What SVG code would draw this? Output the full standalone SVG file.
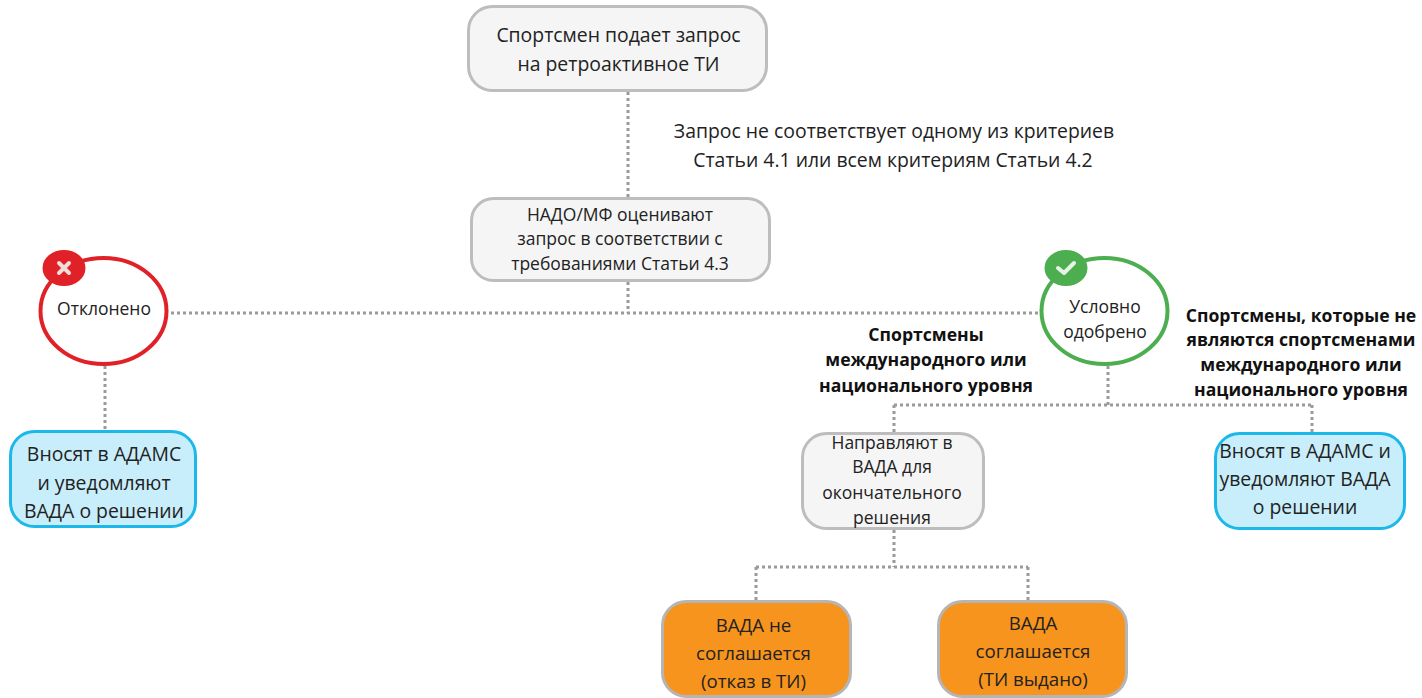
<svg xmlns="http://www.w3.org/2000/svg" width="1422" height="698" viewBox="0 0 1422 698">
<style>
text{font-family:"Open Sans","Noto Sans","Liberation Sans",sans-serif;font-size:17.5px;fill:#222;text-anchor:middle}
.l{font-size:19.4px}
.m{font-size:18.7px}
.b{font-weight:700;font-size:17.6px;fill:#111}
.g{fill:#f5f5f5;stroke:#bdbdbd;stroke-width:3}
.c{fill:#c9eefb;stroke:#1cb8ea;stroke-width:3}
.o{fill:#f7941d;stroke:#b5b5b5;stroke-width:3}
#connectors path{fill:none;stroke:#9a9a9a;stroke-width:3;stroke-dasharray:3 3}
</style>
<g id="connectors">
<path d="M628 92V198"/>
<path d="M628 282V313"/>
<path d="M171 313H1041"/>
<path d="M105 366V431"/>
<path d="M1108 366V405"/>
<path d="M894 405H1312"/>
<path d="M894 405V433"/>
<path d="M1312 405V433"/>
<path d="M894 530V567"/>
<path d="M756 567H1028"/>
<path d="M756 567V601"/>
<path d="M1028 567V601"/>
</g>
<g id="n-request"><rect class="g" x="468.500" y="6.500" width="298" height="84" rx="24"/><text class="l" x="618.500" y="42">Спортсмен подает запрос</text><text class="l" x="618.500" y="71">на ретроактивное ТИ</text></g>
<g id="n-criteria"><text class="l" x="894" y="138">Запрос не соответствует одному из критериев</text><text class="l" x="893" y="167">Статьи 4.1 или всем критериям Статьи 4.2</text></g>
<g id="n-assess"><rect class="g" x="471.500" y="198.500" width="298" height="82" rx="22"/><text x="620" y="221">НАДО/МФ оценивают</text><text x="620" y="245">запрос в соответствии с</text><text x="620" y="270">требованиями Статьи 4.3</text></g>
<g id="n-rejected"><ellipse cx="103.500" cy="311" rx="63" ry="53" fill="#fff" stroke="#e02127" stroke-width="4"/><ellipse cx="64" cy="268" rx="21.500" ry="18" fill="#e02127"/><path d="M59 263l10 10m0-10l-10 10" stroke="#f3dcdc" stroke-width="4" stroke-linecap="round"/><text x="104" y="315">Отклонено</text></g>
<g id="n-approved"><ellipse cx="1104.500" cy="311" rx="63" ry="53" fill="#fff" stroke="#4cae4f" stroke-width="4"/><ellipse cx="1066" cy="268" rx="21.500" ry="18" fill="#4cae4f"/><path d="M1058 268l6 5 10-10" fill="none" stroke="#e6f3e6" stroke-width="4" stroke-linecap="round" stroke-linejoin="round"/><text x="1105" y="313">Условно</text><text x="1105" y="338">одобрено</text></g>
<g id="n-label-left"><text class="b" x="926" y="341">Спортсмены</text><text class="b" x="926" y="366">международного или</text><text class="b" x="926" y="392">национального уровня</text></g>
<g id="n-label-right"><text class="b" x="1301" y="322">Спортсмены, которые не</text><text class="b" x="1301" y="346">являются спортсменами</text><text class="b" x="1301" y="371">международного или</text><text class="b" x="1301" y="396">национального уровня</text></g>
<g id="n-adams-left"><rect class="c" x="10.500" y="431.500" width="185" height="95" rx="24"/><text class="l" x="104" y="461">Вносят в АДАМС</text><text class="l" x="104" y="490">и уведомляют</text><text class="l" x="104" y="518">ВАДА о решении</text></g>
<g id="n-adams-right"><rect class="c" x="1215.500" y="433.500" width="189" height="95" rx="24"/><text class="l" x="1305" y="458">Вносят в АДАМС и</text><text class="l" x="1305" y="486">уведомляют ВАДА</text><text class="l" x="1305" y="514">о решении</text></g>
<g id="n-wada"><rect class="g" x="802.500" y="433.500" width="181" height="95" rx="24"/><text x="892" y="449">Направляют в</text><text x="892" y="473">ВАДА для</text><text x="892" y="499">окончательного</text><text x="892" y="524">решения</text></g>
<g id="n-disagree"><rect class="o" x="662.500" y="601.500" width="188" height="95" rx="24"/><text class="m" x="753.500" y="632">ВАДА не</text><text class="m" x="753.500" y="660">соглашается</text><text class="m" x="753.500" y="688">(отказ в ТИ)</text></g>
<g id="n-agree"><rect class="o" x="938.500" y="601.500" width="188" height="95" rx="24"/><text class="m" x="1033" y="630">ВАДА</text><text class="m" x="1033" y="658">соглашается</text><text class="m" x="1033" y="686">(ТИ выдано)</text></g>
</svg>
